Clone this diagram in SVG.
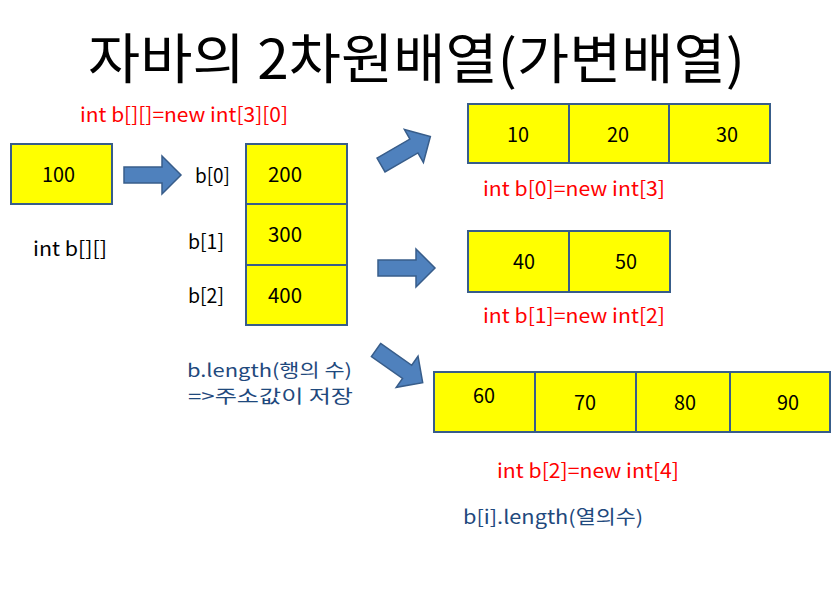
<svg xmlns="http://www.w3.org/2000/svg" xmlns:xlink="http://www.w3.org/1999/xlink" width="840" height="607" viewBox="0 0 840 607">
<style>
text { font-family: "Noto Sans CJK KR", "Noto Sans", sans-serif; }
.box { fill: #ffff00; stroke: #385d8a; stroke-width: 2; }
.num { font-size: 20px; fill: #000; }
.lbl { font-size: 20px; fill: #000; }
.red { font-size: 20px; fill: #ff0000; }
.blue { fill: #1f497d; }
.arrow { fill: #4f81bd; stroke: #385d8a; stroke-width: 1.5; }
</style>
<defs>
<path id="arr" d="M0,-8 H38 V-19 L57,0 L38,19 V8 H0 Z"/>
</defs>
<rect width="840" height="607" fill="#ffffff"/>
<text id="title" x="88" y="79" font-size="54" textLength="657" lengthAdjust="spacingAndGlyphs">자바의 2차원배열(가변배열)</text>

<g id="decl">
<text class="red" x="80" y="122" textLength="208" lengthAdjust="spacingAndGlyphs">int b[][]=new int[3][0]</text>
</g>

<g id="ref-b">
<rect class="box" x="11" y="144" width="101" height="60"/>
<text class="num" x="42" y="182" textLength="33" lengthAdjust="spacingAndGlyphs">100</text>
<text class="lbl" x="33" y="256" textLength="74" lengthAdjust="spacingAndGlyphs">int b[][]</text>
</g>

<g id="rows">
<rect class="box" x="246" y="144" width="101" height="60"/>
<rect class="box" x="246" y="204" width="101" height="61"/>
<rect class="box" x="246" y="265" width="101" height="60"/>
<text class="lbl" x="195" y="183" textLength="35" lengthAdjust="spacingAndGlyphs">b[0]</text>
<text class="lbl" x="188" y="249" textLength="36" lengthAdjust="spacingAndGlyphs">b[1]</text>
<text class="lbl" x="188" y="303" textLength="36" lengthAdjust="spacingAndGlyphs">b[2]</text>
<text class="num" x="268" y="182" textLength="34" lengthAdjust="spacingAndGlyphs">200</text>
<text class="num" x="268" y="242" textLength="34" lengthAdjust="spacingAndGlyphs">300</text>
<text class="num" x="268" y="303" textLength="34" lengthAdjust="spacingAndGlyphs">400</text>
</g>

<g id="row0">
<rect class="box" x="468" y="104" width="101" height="59"/>
<rect class="box" x="569" y="104" width="100" height="59"/>
<rect class="box" x="669" y="104" width="101" height="59"/>
<text class="num" x="507" y="142" textLength="22" lengthAdjust="spacingAndGlyphs">10</text>
<text class="num" x="607" y="142" textLength="22" lengthAdjust="spacingAndGlyphs">20</text>
<text class="num" x="716" y="142" textLength="22" lengthAdjust="spacingAndGlyphs">30</text>
<text class="red" x="483" y="196" textLength="182" lengthAdjust="spacingAndGlyphs">int b[0]=new int[3]</text>
</g>

<g id="row1">
<rect class="box" x="468" y="231" width="101" height="61"/>
<rect class="box" x="569" y="231" width="101" height="61"/>
<text class="num" x="513" y="269" textLength="22" lengthAdjust="spacingAndGlyphs">40</text>
<text class="num" x="615" y="269" textLength="22" lengthAdjust="spacingAndGlyphs">50</text>
<text class="red" x="483" y="323" textLength="182" lengthAdjust="spacingAndGlyphs">int b[1]=new int[2]</text>
</g>

<g id="row2">
<rect class="box" x="434" y="372" width="101" height="60"/>
<rect class="box" x="535" y="372" width="101" height="60"/>
<rect class="box" x="636" y="372" width="94" height="60"/>
<rect class="box" x="730" y="372" width="100" height="60"/>
<text class="num" x="473" y="403" textLength="22" lengthAdjust="spacingAndGlyphs">60</text>
<text class="num" x="574" y="410" textLength="22" lengthAdjust="spacingAndGlyphs">70</text>
<text class="num" x="674" y="410" textLength="22" lengthAdjust="spacingAndGlyphs">80</text>
<text class="num" x="777" y="410" textLength="22" lengthAdjust="spacingAndGlyphs">90</text>
<text class="red" x="497" y="478" textLength="182" lengthAdjust="spacingAndGlyphs">int b[2]=new int[4]</text>
</g>

<g id="notes">
<text class="blue" x="187" y="377" font-size="18" textLength="165" lengthAdjust="spacingAndGlyphs">b.length(행의 수)</text>
<text class="blue" x="188" y="403" font-size="18" textLength="165" lengthAdjust="spacingAndGlyphs">=&gt;주소값이 저장</text>
<text class="blue" x="463" y="524" font-size="19" textLength="180" lengthAdjust="spacingAndGlyphs">b[i].length(열의수)</text>
</g>

<g id="connectors">
<use xlink:href="#arr" class="arrow" transform="translate(124,175)"/>
<use xlink:href="#arr" class="arrow" transform="translate(381,165) rotate(-30)"/>
<use xlink:href="#arr" class="arrow" transform="translate(378,268)"/>
<use xlink:href="#arr" class="arrow" transform="translate(376,350) rotate(35)"/>
</g>
</svg>
